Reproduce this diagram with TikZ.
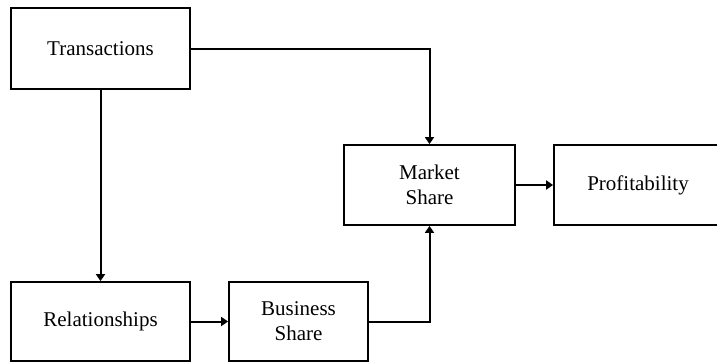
\documentclass[tikz,border=0pt]{standalone}
\usepackage{fontspec}
\setmainfont{Liberation Serif}
\usetikzlibrary{arrows.meta}
\begin{document}
\begin{tikzpicture}[x=1pt,y=-1pt,
  block/.style={draw=black, line width=1.8pt, fill=white, inner sep=0pt,
    align=center, font=\fontsize{21}{25}\selectfont},
  link/.style={line width=2pt,
    -{Triangle[length=7pt,width=9pt]}}]
  \useasboundingbox (0,0) rectangle (717,362);
  % boxes
  \node[block, minimum width=179pt, minimum height=81pt] (trans) at (100.5,48.5) {Transactions};
  \node[block, minimum width=171pt, minimum height=80pt] (market) at (429.5,185) {Market\\Share};
  \node[block, minimum width=168pt, minimum height=80pt] (profit) at (638,185) {Profitability};
  \node[block, minimum width=179pt, minimum height=79pt] (relat) at (100.5,321.5) {Relationships};
  \node[block, minimum width=139pt, minimum height=79pt] (bshare) at (298.5,321.5) {Business\\Share};
  % connectors
  \draw[link] (trans.east) -| (market.north);
  \draw[link] (trans.south) -- (relat.north);
  \draw[link] (relat.east) -- (bshare.west);
  \draw[link] (bshare.east) -| (market.south);
  \draw[link] (market.east) -- (profit.west);
\end{tikzpicture}
\end{document}
